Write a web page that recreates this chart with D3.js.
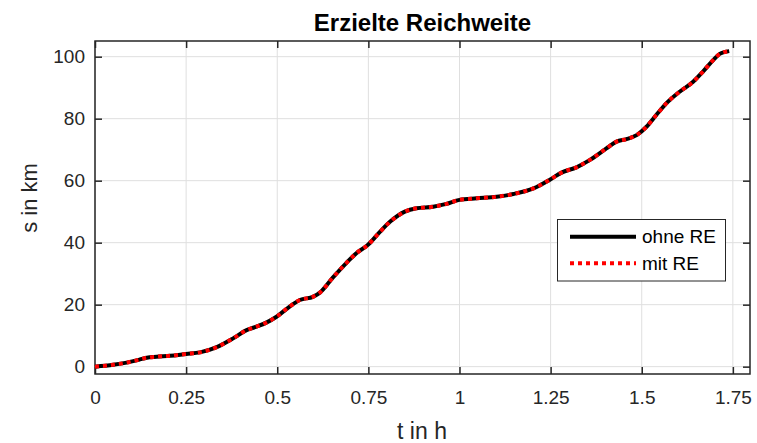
<!DOCTYPE html>
<html>
<head>
<meta charset="utf-8">
<script src="https://cdn.jsdelivr.net/npm/d3@7"></script>
<style>
  body { margin: 0; background: #fff; }
  svg { display: block; font-family: "Liberation Sans", Arial, Helvetica, sans-serif; }
</style>
</head>
<body>
<div id="chart"></div>
<script>
// time in h
const tVals = [0, 0.05, 0.087, 0.12, 0.142, 0.169, 0.206, 0.25, 0.288, 0.334, 0.38, 0.416, 0.443, 0.47, 0.498,
  0.534, 0.562, 0.599, 0.617, 0.653, 0.69, 0.717, 0.749, 0.781, 0.81, 0.85, 0.882, 0.928, 0.964, 1.0,
  1.047, 1.102, 1.148, 1.203, 1.249, 1.28, 1.321, 1.358, 1.403, 1.431, 1.458, 1.486, 1.513, 1.54,
  1.568, 1.604, 1.641, 1.668, 1.696, 1.714, 1.74];
// distance in km (ohne RE)
const sOhne = [0, 0.6, 1.3, 2.2, 2.9, 3.2, 3.5, 4.1, 4.6, 6.3, 9.2, 11.8, 12.9, 14.2, 16.1,
  19.4, 21.5, 22.6, 23.9, 28.8, 33.5, 36.6, 39.3, 43.4, 46.8, 50.0, 51.1, 51.6, 52.5, 53.8,
  54.3, 54.8, 55.7, 57.5, 60.4, 62.6, 64.3, 66.7, 70.4, 72.6, 73.4, 74.7, 77.4, 81.2,
  85.0, 88.7, 91.9, 95.2, 98.9, 100.9, 101.8];
// distance in km (mit RE) - lies on top of ohne RE
const sMit = sOhne.slice();

const xTicks = [0, 0.25, 0.5, 0.75, 1, 1.25, 1.5, 1.75];
const yTicks = [0, 20, 40, 60, 80, 100];
const seriesNames = ["ohne RE", "mit RE"];

const W = 757, H = 443;
const pLeft = 95, pRight = 750, pTop = 41, pBottom = 374;
const axCol = "#262626";

const svg = d3.select("#chart").append("svg")
  .attr("width", W).attr("height", H);

const x = d3.scaleLinear().domain([0, 1.797]).range([pLeft, pRight]);
const y = d3.scaleLinear().domain([-2.37, 105.06]).range([pBottom, pTop]);

// grid
svg.append("g").selectAll("line").data(xTicks).enter().append("line")
  .attr("x1", d => x(d)).attr("x2", d => x(d))
  .attr("y1", pTop).attr("y2", pBottom)
  .attr("stroke", "#dfdfdf").attr("stroke-width", 1);
svg.append("g").selectAll("line").data(yTicks).enter().append("line")
  .attr("x1", pLeft).attr("x2", pRight)
  .attr("y1", d => y(d)).attr("y2", d => y(d))
  .attr("stroke", "#dfdfdf").attr("stroke-width", 1);

// axes (ticks inward on all sides)
const fmt = d => String(d);
const xb = svg.append("g").attr("transform", `translate(0,${pBottom})`)
  .call(d3.axisBottom(x).tickValues(xTicks).tickSize(-7).tickPadding(17).tickFormat(fmt));
const xt = svg.append("g").attr("transform", `translate(0,${pTop})`)
  .call(d3.axisTop(x).tickValues(xTicks).tickSize(-7).tickFormat(""));
const yl = svg.append("g").attr("transform", `translate(${pLeft},0)`)
  .call(d3.axisLeft(y).tickValues(yTicks).tickSize(-7).tickPadding(10).tickFormat(fmt));
const yr = svg.append("g").attr("transform", `translate(${pRight},0)`)
  .call(d3.axisRight(y).tickValues(yTicks).tickSize(-7).tickFormat(""));

[xb, xt, yl, yr].forEach(g => {
  g.select(".domain").remove();
  g.selectAll(".tick line").attr("stroke", axCol).attr("stroke-width", 1.5);
  g.selectAll(".tick text").attr("fill", axCol).style("font-size", "19px");
});

// box
svg.append("rect")
  .attr("x", pLeft).attr("y", pTop)
  .attr("width", pRight - pLeft).attr("height", pBottom - pTop)
  .attr("fill", "none").attr("stroke", axCol).attr("stroke-width", 1.5);

// lines
const data = tVals.map((t, i) => ({ t: t, a: sOhne[i], b: sMit[i] }));
const lineA = d3.line().x(d => x(d.t)).y(d => y(d.a)).curve(d3.curveMonotoneX);
const lineB = d3.line().x(d => x(d.t)).y(d => y(d.b)).curve(d3.curveMonotoneX);

svg.append("path").attr("d", lineA(data))
  .attr("fill", "none").attr("stroke", "#000").attr("stroke-width", 4);
svg.append("path").attr("d", lineB(data))
  .attr("fill", "none").attr("stroke", "#ff0000").attr("stroke-width", 4)
  .attr("stroke-dasharray", "4,4");

// title and labels
svg.append("text").attr("x", (pLeft + pRight) / 2).attr("y", 31)
  .attr("text-anchor", "middle").attr("font-weight", "bold")
  .style("font-size", "24px").attr("fill", "#000")
  .text("Erzielte Reichweite");
svg.append("text").attr("x", 422).attr("y", 439)
  .attr("text-anchor", "middle").style("font-size", "23px").attr("fill", axCol)
  .text("t in h");
svg.append("text").attr("transform", "translate(37,198) rotate(-90)")
  .attr("text-anchor", "middle").style("font-size", "22px").attr("fill", axCol)
  .text("s in km");

// legend
const lg = svg.append("g");
lg.append("rect").attr("x", 557.5).attr("y", 219.5).attr("width", 168).attr("height", 61.5)
  .attr("fill", "#fff").attr("stroke", axCol).attr("stroke-width", 1);
const legStyles = [
  { stroke: "#000", dash: null },
  { stroke: "#ff0000", dash: "4,4" }
];
seriesNames.forEach((name, i) => {
  const ly = 236.7 + i * 26.6;
  lg.append("line").attr("x1", 570).attr("x2", 636).attr("y1", ly).attr("y2", ly)
    .attr("stroke", legStyles[i].stroke).attr("stroke-width", 4)
    .attr("stroke-dasharray", legStyles[i].dash);
  lg.append("text").attr("x", 642).attr("y", ly).attr("dy", "0.35em")
    .style("font-size", "19px").attr("fill", "#000").text(name);
});
</script>
</body>
</html>
